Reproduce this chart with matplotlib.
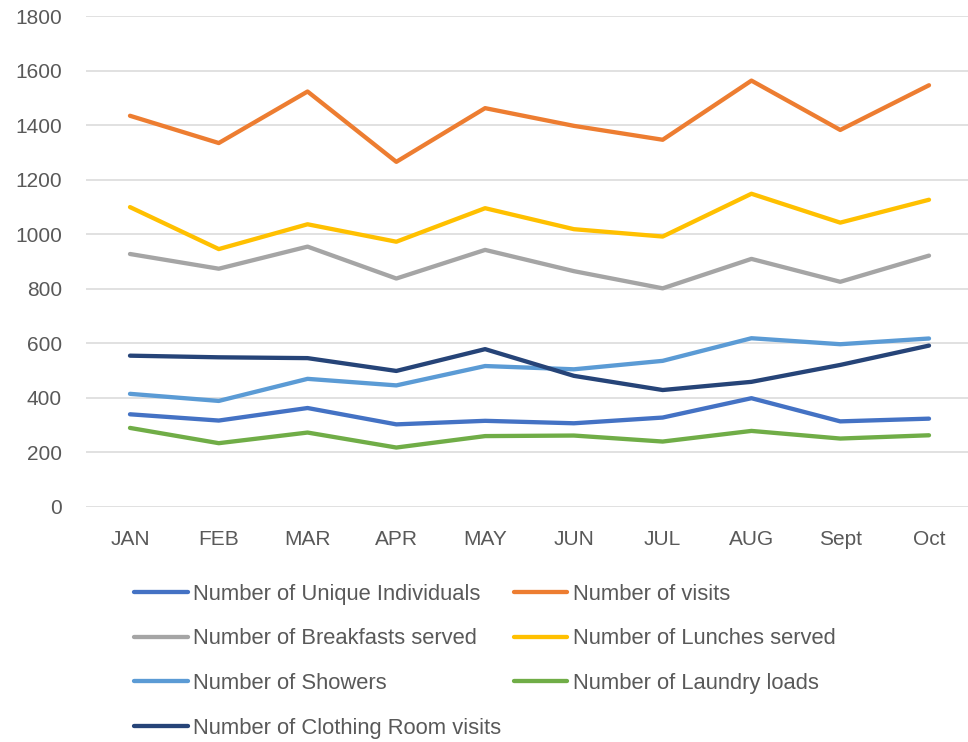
import matplotlib
matplotlib.use("Agg")
import matplotlib.pyplot as plt

# Monthly service counts
months = ["JAN", "FEB", "MAR", "APR", "MAY", "JUN", "JUL", "AUG", "Sept", "Oct"]

unique_individuals = [339, 316, 362, 302, 315, 306, 327, 398, 313, 323]
visits = [1434, 1334, 1523, 1265, 1462, 1397, 1346, 1563, 1382, 1546]
breakfasts = [927, 873, 954, 837, 942, 864, 801, 909, 825, 921]
lunches = [1099, 945, 1036, 972, 1095, 1018, 991, 1148, 1042, 1126]
showers = [414, 388, 469, 445, 516, 504, 535, 618, 596, 617]
laundry = [289, 233, 272, 217, 259, 261, 239, 278, 250, 262]
clothing = [554, 548, 545, 498, 578, 480, 428, 458, 520, 591]

series = [
    ("Number of Unique Individuals", unique_individuals, "#4472C4"),
    ("Number of visits", visits, "#ED7D31"),
    ("Number of Breakfasts served", breakfasts, "#A5A5A5"),
    ("Number of Lunches served", lunches, "#FFC000"),
    ("Number of Showers", showers, "#5B9BD5"),
    ("Number of Laundry loads", laundry, "#70AD47"),
    ("Number of Clothing Room visits", clothing, "#264478"),
]

plt.rcParams["font.family"] = ["Liberation Sans", "DejaVu Sans"]

fig = plt.figure(figsize=(9.68, 7.42), dpi=100)
W, H = 968, 742
left, right = 85.6, 973.4
bottom, top = 742 - 506.7, 742 - 16
ax = fig.add_axes([left / W, bottom / H, (right - left) / W, (top - bottom) / H])

x = list(range(len(months)))
handles = {}
for label, vals, color in series:
    line, = ax.plot(x, vals, color=color, linewidth=3.1, label=label,
                    solid_capstyle="round", solid_joinstyle="round", zorder=3)
    handles[label] = line

ax.set_xlim(-0.5, len(months) - 0.5)
ax.set_ylim(0, 1800)
ax.set_yticks(range(0, 1801, 200))
ax.set_xticks(x)
ax.set_xticklabels(months)
ax.grid(axis="y", color="#d9d9d9", linewidth=1.1)
ax.set_axisbelow(True)
for s in ax.spines.values():
    s.set_visible(False)
ax.tick_params(length=0, labelsize=15, colors="#595959")
ax.tick_params(axis="x", pad=17)
ax.tick_params(axis="y", pad=17)

# row-major order for a 2-column legend
order = [0, 2, 4, 6, 1, 3, 5]
hs = [handles[series[i][0]] for i in order]
ls = [series[i][0] for i in order]
fig.legend(hs, ls, ncol=2, frameon=False, loc="upper left",
           bbox_to_anchor=(114 / W, 1 - 564 / H),
           fontsize=15.8, labelcolor="#595959",
           handlelength=2.45, handletextpad=0.27,
           columnspacing=0.55, labelspacing=1.08)

plt.savefig("out.png", dpi=100)
